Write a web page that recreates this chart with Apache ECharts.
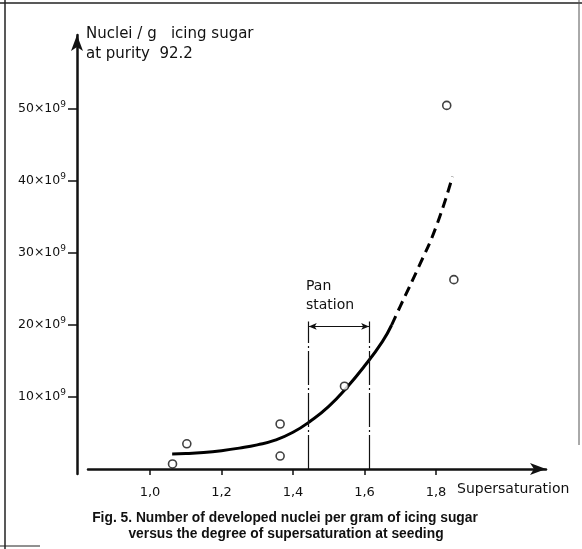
<!DOCTYPE html>
<html><head><meta charset="utf-8">
<script src="https://cdn.jsdelivr.net/npm/echarts@6/dist/echarts.min.js"></script>
<style>html,body{margin:0;padding:0;background:#fff}#c{width:582px;height:549px}</style>
</head><body><div id="c"></div>
<script>
// tick values
const xTicks = [1.0, 1.2, 1.4, 1.6, 1.8];
const yTicks = [10, 20, 30, 40, 50];
// measured points (x: supersaturation, y: nuclei/g in 10^9)
const pointsX = [1.063, 1.103, 1.364, 1.364, 1.544, 1.830, 1.850];
const pointsY = [0.7, 3.5, 6.25, 1.8, 11.5, 50.5, 26.3];
// fitted curve, solid part
const curveX = [1.062, 1.10, 1.15, 1.20, 1.25, 1.30, 1.35, 1.40, 1.45, 1.50, 1.55, 1.60, 1.65, 1.676];
const curveY = [2.1, 2.15, 2.3, 2.55, 2.9, 3.35, 4.0, 5.1, 6.7, 8.7, 11.3, 14.3, 17.7, 20.0];
// fitted curve, dashed extrapolation
const dashX = [1.676, 1.70, 1.75, 1.80, 1.846];
const dashY = [20.0, 22.6, 27.9, 33.6, 40.6];
// pan station range
const panX = [1.444, 1.613];
const panTop = 20.5;
const panArrowY = 19.8;

const zip = (a, b) => a.map((v, i) => [v, b[i]]);
const FONT = 'DejaVu Sans';

const chart = echarts.init(document.getElementById('c'), null, {renderer: 'canvas'});
chart.setOption({
  animation: false,
  backgroundColor: '#fff',
  grid: {left: 88, right: 36, top: 35, bottom: 75, containLabel: false},
  xAxis: {
    type: 'value',
    min: 1 - 62 / 357.5,
    max: 1 + 396 / 357.5,
    splitLine: {show: false},
    axisLine: {onZero: true, lineStyle: {color: '#111', width: 2.5}, symbol: ['none', 'arrow'], symbolSize: [9, 16]},
    axisTick: {show: true, customValues: xTicks, length: 6, lineStyle: {color: '#111', width: 1.5}},
    axisLabel: {customValues: xTicks, margin: 12, color: '#111', fontFamily: FONT, fontSize: 13,
      formatter: v => v.toFixed(1).replace('.', ',')}
  },
  yAxis: {
    type: 'value',
    min: -5 / 7.2,
    max: (469 - 35) / 7.2,
    offset: 11,
    splitLine: {show: false},
    axisLine: {onZero: false, lineStyle: {color: '#111', width: 2.5}, symbol: ['none', 'arrow'], symbolSize: [9, 16]},
    axisTick: {show: true, customValues: yTicks, length: 9, lineStyle: {color: '#111', width: 1.5}},
    axisLabel: {customValues: yTicks, margin: 11, color: '#111', fontFamily: FONT,
      formatter: v => '{n|' + v + '×10}{s|9}',
      rich: {
        n: {fontFamily: FONT, fontSize: 12.5, color: '#111'},
        s: {fontFamily: FONT, fontSize: 9, color: '#111', verticalAlign: 'top', padding: [0, 0, 8, 0]}
      }}
  },
  series: [
    {
      type: 'line', data: zip(curveX, curveY), smooth: 0.5,
      symbol: 'none', lineStyle: {color: '#000', width: 3}, z: 3
    },
    {
      type: 'line', data: zip(dashX, dashY), smooth: 0.5,
      symbol: 'none', lineStyle: {color: '#000', width: 3, type: [10, 6]}, z: 3
    },
    {
      type: 'scatter', data: zip(pointsX, pointsY), symbol: 'circle', symbolSize: 8,
      itemStyle: {color: '#fff', borderColor: '#111', borderWidth: 1.6}, z: 5,
      markLine: {
        silent: true, symbol: ['none', 'none'], label: {show: false},
        lineStyle: {color: '#111', width: 1.2, type: [34, 3, 2, 3]},
        data: panX.map(x => [{coord: [x, 0]}, {coord: [x, panTop]}])
      }
    },
    {
      type: 'line', data: [], symbol: 'none',
      markLine: {
        silent: true, symbol: ['arrow', 'arrow'], symbolSize: [5, 8], label: {show: false},
        lineStyle: {color: '#111', width: 1.2, type: 'solid'},
        data: [[{coord: [panX[0], panArrowY]}, {coord: [panX[1], panArrowY]}]]
      }
    }
  ],
  graphic: [
    {type: 'text', left: 86, top: 24, style: {text: 'Nuclei / g   icing sugar\nat purity  92.2', font: '15px "DejaVu Sans"', fill: '#111', lineHeight: 20}},
    {type: 'text', left: 306, top: 277, style: {text: 'Pan\nstation', font: '14px "DejaVu Sans"', fill: '#111', lineHeight: 19}},
    {type: 'text', left: 457, top: 482, style: {text: 'Supersaturation', font: '14px "DejaVu Sans"', fill: '#111'}},
    {type: 'text', x: 285, y: 518, style: {text: 'Fig. 5. Number of developed nuclei per gram of icing sugar', font: 'bold 13.8px "Liberation Sans"', fill: '#111', align: 'center', verticalAlign: 'middle'}},
    {type: 'text', x: 286, y: 534, style: {text: 'versus the degree of supersaturation at seeding', font: 'bold 13.8px "Liberation Sans"', fill: '#111', align: 'center', verticalAlign: 'middle'}},
    {type: 'line', shape: {x1: 5, y1: 0, x2: 5, y2: 549}, style: {stroke: '#222', lineWidth: 1.5}},
    {type: 'line', shape: {x1: 0, y1: 3, x2: 582, y2: 3}, style: {stroke: '#222', lineWidth: 1.5}},
    {type: 'line', shape: {x1: 579, y1: 0, x2: 579, y2: 445}, style: {stroke: '#555', lineWidth: 1}},
    {type: 'line', shape: {x1: 0, y1: 546, x2: 40, y2: 546}, style: {stroke: '#222', lineWidth: 1}}
  ]
});
</script></body></html>
